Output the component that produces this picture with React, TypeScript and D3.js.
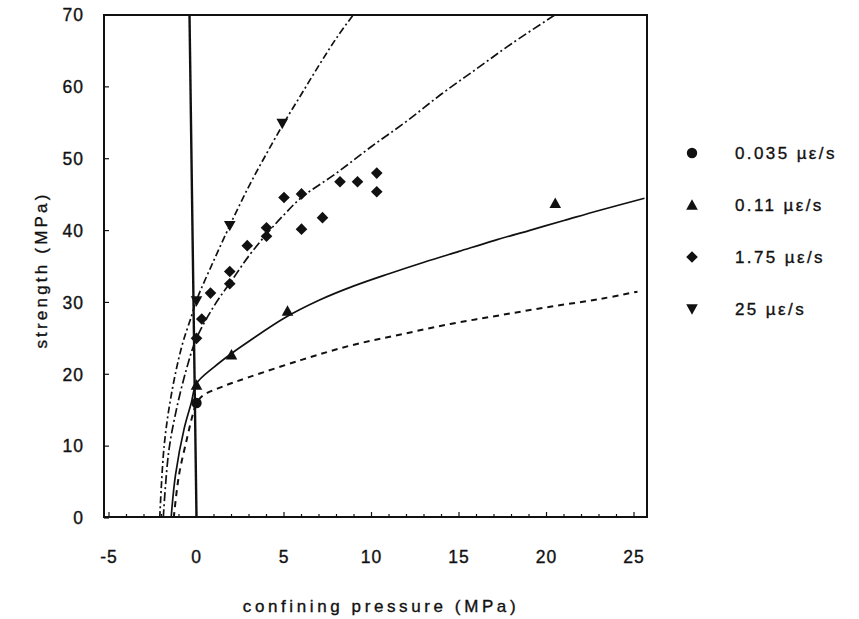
import React from "react";
import * as d3 from "d3";

// ---- data ----
const xTicks = [-5, 0, 5, 10, 15, 20, 25];
const yTicks = [0, 10, 20, 30, 40, 50, 60, 70];
const xMinorTicks = d3.range(-5, 26, 1);

const legendLabels = ["0.035 µε/s", "0.11 µε/s", "1.75 µε/s", "25 µε/s"];

// points
const pts0035: [number, number][] = [[0, 16]];
const pts011: [number, number][] = [[0, 18.5], [2, 22.7], [5.2, 28.8], [20.5, 43.8]];
const pts175: [number, number][] = [
  [0, 25], [0.3, 27.7], [0.8, 31.3], [1.9, 32.6], [1.9, 34.3], [2.9, 37.9],
  [4, 39.2], [4, 40.4], [5, 44.6], [6, 45.1], [6, 40.2], [7.2, 41.8],
  [8.2, 46.8], [9.2, 46.8], [10.3, 48], [10.3, 45.4],
];
const pts25: [number, number][] = [[0, 30.2], [1.9, 40.7], [4.9, 54.9]];

// fitted envelopes (traced)
const curve25: [number, number][] = [
  [-2.1, 0], [-1.85, 10], [-1.45, 17], [-0.85, 23.8], [-0.3, 28], [0, 30.3],
  [1, 35.9], [2, 41.2], [3, 46.2], [4, 50.7], [5, 55], [6, 59], [7, 63],
  [8, 66.8], [9.1, 70.5],
];
const curve175: [number, number][] = [
  [-1.9, 0], [-1.6, 9], [-1.2, 14.5], [-0.6, 20.5], [0, 25], [1, 29.5],
  [2, 33], [3, 36.5], [4, 39.5], [5, 42.2], [6, 44.6], [8, 48], [10, 51.7],
  [12, 55.2], [14, 59], [16, 62.5], [18, 66], [20.6, 70.2],
];
const curve011: [number, number][] = [
  [-1.45, 0], [-1.2, 6], [-0.7, 12.5], [-0.3, 16], [0, 18.7], [1, 21],
  [2, 22.9], [3, 24.6], [5, 27.8], [7, 30.3], [9, 32.3], [11, 34.0],
  [13, 35.6], [15, 37.1], [17, 38.6], [19, 40], [21, 41.4], [23, 42.8],
  [25.6, 44.5],
];
const curve0035: [number, number][] = [
  [-1.3, 0], [-1.0, 6], [-0.55, 11], [-0.2, 14.5], [0, 16], [0.4, 17.1],
  [1.5, 18.3], [3, 19.6], [6, 22], [8.8, 24], [11.6, 25.5], [14.5, 27],
  [17.3, 28.2], [20.2, 29.4], [23.1, 30.5], [25.2, 31.5],
];
const zeroLine: [number, number][] = [[0, 0], [-0.4, 70]];

// ---- layout ----
const W = 859;
const H = 619;
const frame = { left: 104, right: 647, top: 15, bottom: 517 };
const x = d3.scaleLinear().domain([-5, 25]).range([109, 634]);
const y = d3.scaleLinear().domain([0, 70]).range([518, 15]);
const FONT = "'Liberation Sans', Arial, Helvetica, sans-serif";
const INK = "#111";
const TXT = { stroke: INK, strokeWidth: 0.35 };

const line = d3
  .line<[number, number]>()
  .x((d) => x(d[0]))
  .y((d) => y(d[1]))
  .curve(d3.curveCatmullRom.alpha(0.5));

const straight = d3
  .line<[number, number]>()
  .x((d) => x(d[0]))
  .y((d) => y(d[1]));

function Marker({ kind, cx, cy }: { kind: string; cx: number; cy: number }) {
  const s = 5.8;
  if (kind === "circle") return <circle cx={cx} cy={cy} r={5.2} fill={INK} />;
  if (kind === "up")
    return (
      <path
        d={`M${cx},${cy - s} L${cx + s},${cy + s * 0.8} L${cx - s},${cy + s * 0.8} Z`}
        fill={INK}
      />
    );
  if (kind === "down")
    return (
      <path
        d={`M${cx},${cy + s} L${cx + s},${cy - s * 0.8} L${cx - s},${cy - s * 0.8} Z`}
        fill={INK}
      />
    );
  return (
    <path
      d={`M${cx},${cy - s} L${cx + s},${cy} L${cx},${cy + s} L${cx - s},${cy} Z`}
      fill={INK}
    />
  );
}

const kinds = ["circle", "up", "diamond", "down"];
const seriesPts = [pts0035, pts011, pts175, pts25];

export default function App() {
  return (
    <svg width={W} height={H} style={{ display: "block", position: "absolute", left: 0, top: 0, background: "#fff" }}>
      <rect width={W} height={H} fill="#fff" />
      <defs>
        <clipPath id="plot">
          <rect
            x={frame.left}
            y={frame.top}
            width={frame.right - frame.left}
            height={frame.bottom - frame.top}
          />
        </clipPath>
      </defs>

      {/* curves */}
      <g clipPath="url(#plot)" fill="none" stroke={INK}>
        <path d={straight(zeroLine) || ""} strokeWidth={2.4} />
        <path d={line(curve25) || ""} strokeWidth={1.7} strokeDasharray="7,3,2,3" />
        <path d={line(curve175) || ""} strokeWidth={1.7} strokeDasharray="9,3,2,3" />
        <path d={line(curve011) || ""} strokeWidth={1.7} />
        <path d={line(curve0035) || ""} strokeWidth={2} strokeDasharray="6,5" />
      </g>

      {/* points */}
      <g>
        {seriesPts.map((pts, i) =>
          pts.map((p, j) => (
            <Marker key={`${i}-${j}`} kind={kinds[i]} cx={x(p[0])} cy={y(p[1])} />
          ))
        )}
      </g>

      {/* frame */}
      <rect
        x={frame.left}
        y={frame.top}
        width={frame.right - frame.left}
        height={frame.bottom - frame.top}
        fill="none"
        stroke={INK}
        strokeWidth={2}
      />

      {/* x ticks */}
      <g stroke={INK} strokeWidth={1.2}>
        {xMinorTicks.map((t) => (
          <line key={t} x1={x(t)} x2={x(t)} y1={frame.bottom} y2={frame.bottom - (t % 5 === 0 ? 5 : 3)} />
        ))}
      </g>
      <g fontFamily={FONT} fontSize={17.5} fill={INK} textAnchor="middle" {...TXT}>
        {xTicks.map((t) => (
          <text key={t} x={x(t)} y={563} letterSpacing={1}>
            {t}
          </text>
        ))}
      </g>

      {/* y ticks */}
      <g stroke={INK} strokeWidth={1.2}>
        {yTicks.map((t) => (
          <line key={t} x1={frame.left} x2={frame.left + 5} y1={y(t)} y2={y(t)} />
        ))}
      </g>
      <g fontFamily={FONT} fontSize={17.5} fill={INK} textAnchor="end" {...TXT}>
        {yTicks.map((t) => (
          <text key={t} x={84} y={y(t)} dy="0.36em" letterSpacing={1}>
            {t}
          </text>
        ))}
      </g>

      {/* axis titles */}
      <text
        x={381}
        y={612}
        fontFamily={FONT}
        fontSize={17}
        textAnchor="middle"
        fill={INK}
        letterSpacing={3.6}
        {...TXT}
      >
        confining pressure (MPa)
      </text>
      <text
        transform="translate(47,270) rotate(-90)"
        fontFamily={FONT}
        fontSize={17}
        textAnchor="middle"
        fill={INK}
        letterSpacing={3.2}
        {...TXT}
      >
        strength (MPa)
      </text>

      {/* legend */}
      <g fontFamily={FONT} fontSize={17} fill={INK}>
        {legendLabels.map((lab, i) => {
          const cy = 153 + i * 52;
          return (
            <g key={lab}>
              <Marker kind={kinds[i]} cx={692} cy={cy} />
              <text x={735} y={cy} dy="0.36em" letterSpacing={2.4} {...TXT}>
                {lab}
              </text>
            </g>
          );
        })}
      </g>
    </svg>
  );
}
